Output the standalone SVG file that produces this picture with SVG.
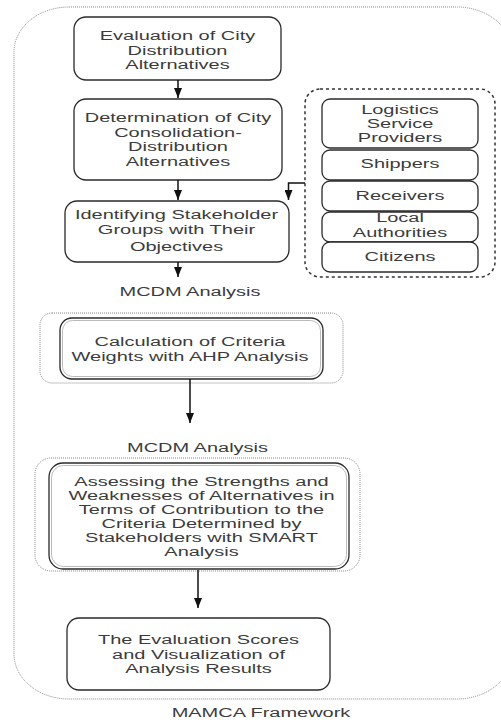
<svg xmlns="http://www.w3.org/2000/svg" width="501" height="722" viewBox="0 0 501 722">
<style>
.t{font-family:"Liberation Sans",Arial,sans-serif;font-size:12.5px;fill:#3c3c3c;text-anchor:middle}
.box{fill:#fff;stroke:#2a2a2a;stroke-width:1.3}
.sbox{fill:#fff;stroke:#2a2a2a;stroke-width:1.3}
.dot{fill:none;stroke:#8a8a8a;stroke-width:1;stroke-dasharray:1 1}
.inner{fill:none;stroke:#aaa;stroke-width:0.8}
.dash{fill:none;stroke:#333;stroke-width:1.5;stroke-dasharray:3 3}
.ln{fill:none;stroke:#111;stroke-width:1.5}
</style>
<defs>
<marker id="ah" markerWidth="10" markerHeight="8" refX="10" refY="4" orient="auto" markerUnits="userSpaceOnUse" viewBox="0 0 10 8">
<path d="M0,0 L10,4 L0,8 Z" fill="#111"/>
</marker>
</defs>
<rect width="501" height="722" fill="#fff"/>
<g id="frame">
<rect class="dot" x="14" y="7" width="498" height="692" rx="55" ry="45"/>
<text class="t" transform="translate(261,0) scale(1.6,1)"><tspan x="0" y="717">MAMCA Framework</tspan></text>
</g>
<g id="n1">
<rect class="box" x="74" y="17" width="207" height="63" rx="12"/>
<text class="t" transform="translate(177.5,0) scale(1.6,1)"><tspan x="0" y="40">Evaluation of City</tspan><tspan x="0" y="55">Distribution</tspan><tspan x="0" y="69.5">Alternatives</tspan></text>
</g>
<g id="n2">
<rect class="box" x="74" y="99" width="208" height="81" rx="12"/>
<text class="t" transform="translate(178,0) scale(1.6,1)"><tspan x="0" y="122.5">Determination of City</tspan><tspan x="0" y="137">Consolidation-</tspan><tspan x="0" y="151.5">Distribution</tspan><tspan x="0" y="166">Alternatives</tspan></text>
</g>
<g id="n3">
<rect class="box" x="65" y="201" width="224" height="61" rx="12"/>
<text class="t" transform="translate(176.5,0) scale(1.6,1)"><tspan x="0" y="219.5">Identifying Stakeholder</tspan><tspan x="0" y="234.5">Groups with Their</tspan><tspan x="0" y="251">Objectives</tspan></text>
</g>
<g id="lbl1">
<text class="t" transform="translate(190,0) scale(1.6,1)"><tspan x="0" y="296.5">MCDM Analysis</tspan></text>
</g>
<g id="n4">
<rect class="dot" x="40" y="313" width="303" height="70" rx="12"/>
<rect class="box" x="60" y="318" width="263" height="61" rx="12"/>
<rect class="inner" x="62.5" y="320.5" width="258" height="56" rx="10"/>
<text class="t" transform="translate(190,0) scale(1.6,1)"><tspan x="0" y="346.5">Calculation of Criteria</tspan><tspan x="0" y="361.5">Weights with AHP Analysis</tspan></text>
</g>
<g id="lbl2">
<text class="t" transform="translate(197.5,0) scale(1.6,1)"><tspan x="0" y="452.5">MCDM Analysis</tspan></text>
</g>
<g id="n5">
<rect class="dot" x="35" y="458" width="325" height="113" rx="16"/>
<rect class="box" x="49" y="463" width="300" height="106" rx="14"/>
<rect class="inner" x="51.5" y="465.5" width="295" height="101" rx="12"/>
<text class="t" transform="translate(201.5,0) scale(1.6,1)"><tspan x="0" y="486.5">Assessing the Strengths and</tspan><tspan x="0" y="500.4">Weaknesses of Alternatives in</tspan><tspan x="0" y="514.3">Terms of Contribution to the</tspan><tspan x="0" y="528.2">Criteria Determined by</tspan><tspan x="0" y="542.1">Stakeholders with SMART</tspan><tspan x="0" y="556">Analysis</tspan></text>
</g>
<g id="n6">
<rect class="box" x="67" y="618" width="263" height="72" rx="12"/>
<text class="t" transform="translate(198.5,0) scale(1.6,1)"><tspan x="0" y="644.5">The Evaluation Scores</tspan><tspan x="0" y="659">and Visualization of</tspan><tspan x="0" y="673">Analysis Results</tspan></text>
</g>
<g id="stakeholders">
<rect class="dash" x="305" y="89" width="190" height="188" rx="15"/>
<g id="s1">
<rect class="sbox" x="322" y="99" width="156" height="49" rx="8"/>
<text class="t" transform="translate(400,0) scale(1.6,1)"><tspan x="0" y="114.5">Logistics</tspan><tspan x="0" y="128.5">Service</tspan><tspan x="0" y="142.5">Providers</tspan></text>
</g>
<g id="s2">
<rect class="sbox" x="322" y="150" width="156" height="30" rx="8"/>
<text class="t" transform="translate(400,0) scale(1.6,1)"><tspan x="0" y="168.5">Shippers</tspan></text>
</g>
<g id="s3">
<rect class="sbox" x="322" y="181" width="156" height="30" rx="8"/>
<text class="t" transform="translate(400,0) scale(1.6,1)"><tspan x="0" y="200.5">Receivers</tspan></text>
</g>
<g id="s4">
<rect class="sbox" x="322" y="212" width="156" height="30" rx="8"/>
<text class="t" transform="translate(400,0) scale(1.6,1)"><tspan x="0" y="222.5">Local</tspan><tspan x="0" y="237.5">Authorities</tspan></text>
</g>
<g id="s5">
<rect class="sbox" x="322" y="242" width="156" height="30" rx="8"/>
<text class="t" transform="translate(400,0) scale(1.6,1)"><tspan x="0" y="261.5">Citizens</tspan></text>
</g>
</g>
<g id="connectors">
<line class="ln" x1="178" y1="80" x2="178" y2="98" marker-end="url(#ah)"/>
<line class="ln" x1="178" y1="180" x2="178" y2="200" marker-end="url(#ah)"/>
<line class="ln" x1="178" y1="262" x2="178" y2="277" marker-end="url(#ah)"/>
<line class="ln" x1="190" y1="379" x2="190" y2="423" marker-end="url(#ah)"/>
<line class="ln" x1="198" y1="570" x2="198" y2="608" marker-end="url(#ah)"/>
<polyline class="ln" points="305,183 288.5,183 288.5,200" stroke-width="1.2" marker-end="url(#ah)"/>
</g>
</svg>
